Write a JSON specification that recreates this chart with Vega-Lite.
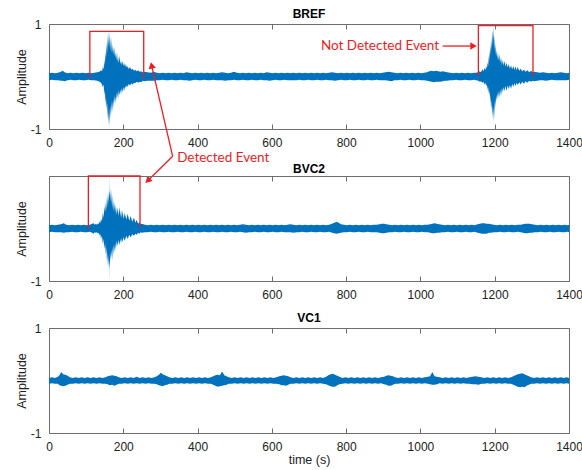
{
"$schema":"https://vega.github.io/schema/vega-lite/v6.json",
"padding":{"left":14,"top":7,"right":2,"bottom":2},
"spacing":47,
"bounds":"flush",
"config":{
 "font":"Liberation Sans",
 "view":{"stroke":"#6e6e6e","strokeWidth":1},
 "axis":{"grid":false,"domain":false,"labelFont":"Liberation Sans","labelFontSize":12,"labelColor":"#222222","titleFont":"Liberation Sans","titleFontSize":12.5,"titleFontWeight":"normal","titleColor":"#222222","tickColor":"#6e6e6e","labelFlush":false},
 "title":{"font":"Liberation Sans","fontSize":12,"fontWeight":"bold","color":"#000000","offset":-3,"baseline":"alphabetic","anchor":"middle","frame":"group"}
},
"datasets":{
"bref":[{"t":0,"h":0.06,"l":-0.07},{"t":8,"h":0.07,"l":-0.06},{"t":16,"h":0.06,"l":-0.07},{"t":24,"h":0.07,"l":-0.07},{"t":32,"h":0.09,"l":-0.08},{"t":37,"h":0.11,"l":-0.08},{"t":42,"h":0.08,"l":-0.09},{"t":50,"h":0.06,"l":-0.07},{"t":58,"h":0.07,"l":-0.06},{"t":66,"h":0.06,"l":-0.07},{"t":74,"h":0.07,"l":-0.07},{"t":82,"h":0.06,"l":-0.06},{"t":90,"h":0.07,"l":-0.07},{"t":98,"h":0.06,"l":-0.07},{"t":106,"h":0.07,"l":-0.06},{"t":114,"h":0.06,"l":-0.07},{"t":122,"h":0.07,"l":-0.07},{"t":130,"h":0.08,"l":-0.08},{"t":136,"h":0.09,"l":-0.1},{"t":140,"h":0.12,"l":-0.12},{"t":143,"h":0.1,"l":-0.16},{"t":145,"h":0.18,"l":-0.2},{"t":147,"h":0.14,"l":-0.15},{"t":149,"h":0.32,"l":-0.36},{"t":150.5,"h":0.2,"l":-0.25},{"t":152,"h":0.47,"l":-0.52},{"t":153.5,"h":0.35,"l":-0.4},{"t":155,"h":0.65,"l":-0.62},{"t":156.5,"h":0.45,"l":-0.5},{"t":158,"h":0.8,"l":-0.82},{"t":159,"h":0.55,"l":-0.6},{"t":160,"h":0.86,"l":-0.93},{"t":161,"h":0.6,"l":-0.7},{"t":162,"h":0.78,"l":-0.97},{"t":163,"h":0.55,"l":-0.6},{"t":164,"h":0.88,"l":-0.86},{"t":165,"h":0.5,"l":-0.55},{"t":166,"h":0.72,"l":-0.78},{"t":167,"h":0.45,"l":-0.5},{"t":168,"h":0.76,"l":-0.72},{"t":169.5,"h":0.45,"l":-0.45},{"t":171,"h":0.62,"l":-0.68},{"t":172.5,"h":0.4,"l":-0.42},{"t":174,"h":0.56,"l":-0.6},{"t":175.5,"h":0.38,"l":-0.35},{"t":177,"h":0.58,"l":-0.5},{"t":178.5,"h":0.35,"l":-0.38},{"t":180,"h":0.46,"l":-0.52},{"t":181.5,"h":0.3,"l":-0.3},{"t":183,"h":0.48,"l":-0.45},{"t":184.5,"h":0.28,"l":-0.3},{"t":186,"h":0.38,"l":-0.42},{"t":188,"h":0.25,"l":-0.26},{"t":190,"h":0.4,"l":-0.36},{"t":192,"h":0.24,"l":-0.25},{"t":194,"h":0.3,"l":-0.34},{"t":196,"h":0.22,"l":-0.22},{"t":198,"h":0.3,"l":-0.3},{"t":200,"h":0.2,"l":-0.2},{"t":202,"h":0.26,"l":-0.28},{"t":205,"h":0.18,"l":-0.18},{"t":207,"h":0.24,"l":-0.22},{"t":210,"h":0.16,"l":-0.16},{"t":212,"h":0.2,"l":-0.2},{"t":215,"h":0.14,"l":-0.14},{"t":218,"h":0.18,"l":-0.17},{"t":222,"h":0.13,"l":-0.13},{"t":225,"h":0.15,"l":-0.15},{"t":229,"h":0.11,"l":-0.12},{"t":232,"h":0.13,"l":-0.13},{"t":236,"h":0.1,"l":-0.1},{"t":240,"h":0.12,"l":-0.12},{"t":244,"h":0.09,"l":-0.1},{"t":248,"h":0.1,"l":-0.11},{"t":252,"h":0.08,"l":-0.08},{"t":256,"h":0.09,"l":-0.09},{"t":265,"h":0.08,"l":-0.08},{"t":274,"h":0.07,"l":-0.08},{"t":282,"h":0.09,"l":-0.08},{"t":290,"h":0.07,"l":-0.07},{"t":298,"h":0.06,"l":-0.07},{"t":306,"h":0.07,"l":-0.06},{"t":314,"h":0.06,"l":-0.07},{"t":322,"h":0.07,"l":-0.07},{"t":330,"h":0.06,"l":-0.06},{"t":338,"h":0.07,"l":-0.07},{"t":346,"h":0.06,"l":-0.07},{"t":354,"h":0.07,"l":-0.06},{"t":362,"h":0.06,"l":-0.07},{"t":370,"h":0.08,"l":-0.07},{"t":378,"h":0.07,"l":-0.08},{"t":386,"h":0.06,"l":-0.07},{"t":394,"h":0.07,"l":-0.06},{"t":402,"h":0.06,"l":-0.07},{"t":410,"h":0.07,"l":-0.07},{"t":418,"h":0.06,"l":-0.06},{"t":426,"h":0.07,"l":-0.07},{"t":434,"h":0.06,"l":-0.07},{"t":442,"h":0.07,"l":-0.06},{"t":450,"h":0.06,"l":-0.07},{"t":458,"h":0.07,"l":-0.07},{"t":466,"h":0.08,"l":-0.07},{"t":474,"h":0.07,"l":-0.08},{"t":482,"h":0.06,"l":-0.07},{"t":490,"h":0.07,"l":-0.07},{"t":498,"h":0.09,"l":-0.06},{"t":506,"h":0.07,"l":-0.07},{"t":514,"h":0.06,"l":-0.07},{"t":522,"h":0.07,"l":-0.06},{"t":530,"h":0.06,"l":-0.07},{"t":538,"h":0.07,"l":-0.07},{"t":546,"h":0.06,"l":-0.06},{"t":554,"h":0.07,"l":-0.07},{"t":562,"h":0.06,"l":-0.07},{"t":570,"h":0.07,"l":-0.06},{"t":578,"h":0.06,"l":-0.07},{"t":586,"h":0.08,"l":-0.07},{"t":594,"h":0.07,"l":-0.08},{"t":602,"h":0.06,"l":-0.07},{"t":610,"h":0.07,"l":-0.06},{"t":618,"h":0.06,"l":-0.07},{"t":626,"h":0.07,"l":-0.07},{"t":634,"h":0.06,"l":-0.06},{"t":642,"h":0.07,"l":-0.07},{"t":650,"h":0.06,"l":-0.07},{"t":658,"h":0.07,"l":-0.07},{"t":666,"h":0.06,"l":-0.07},{"t":674,"h":0.07,"l":-0.06},{"t":682,"h":0.06,"l":-0.07},{"t":690,"h":0.07,"l":-0.07},{"t":698,"h":0.06,"l":-0.06},{"t":706,"h":0.07,"l":-0.07},{"t":714,"h":0.06,"l":-0.07},{"t":722,"h":0.07,"l":-0.06},{"t":730,"h":0.06,"l":-0.07},{"t":738,"h":0.07,"l":-0.07},{"t":746,"h":0.06,"l":-0.06},{"t":754,"h":0.07,"l":-0.07},{"t":762,"h":0.08,"l":-0.07},{"t":770,"h":0.07,"l":-0.08},{"t":778,"h":0.06,"l":-0.07},{"t":786,"h":0.07,"l":-0.06},{"t":794,"h":0.06,"l":-0.07},{"t":802,"h":0.07,"l":-0.07},{"t":810,"h":0.06,"l":-0.06},{"t":818,"h":0.07,"l":-0.07},{"t":826,"h":0.06,"l":-0.07},{"t":834,"h":0.07,"l":-0.06},{"t":842,"h":0.06,"l":-0.07},{"t":850,"h":0.07,"l":-0.07},{"t":858,"h":0.06,"l":-0.06},{"t":866,"h":0.07,"l":-0.07},{"t":874,"h":0.06,"l":-0.07},{"t":882,"h":0.07,"l":-0.06},{"t":890,"h":0.06,"l":-0.07},{"t":898,"h":0.07,"l":-0.07},{"t":906,"h":0.08,"l":-0.07},{"t":914,"h":0.09,"l":-0.08},{"t":922,"h":0.08,"l":-0.09},{"t":930,"h":0.07,"l":-0.07},{"t":938,"h":0.06,"l":-0.07},{"t":946,"h":0.07,"l":-0.06},{"t":954,"h":0.06,"l":-0.07},{"t":962,"h":0.07,"l":-0.07},{"t":970,"h":0.06,"l":-0.06},{"t":978,"h":0.07,"l":-0.07},{"t":986,"h":0.06,"l":-0.07},{"t":994,"h":0.07,"l":-0.06},{"t":1002,"h":0.06,"l":-0.07},{"t":1010,"h":0.07,"l":-0.07},{"t":1018,"h":0.08,"l":-0.08},{"t":1024,"h":0.1,"l":-0.09},{"t":1030,"h":0.11,"l":-0.1},{"t":1036,"h":0.1,"l":-0.11},{"t":1042,"h":0.11,"l":-0.1},{"t":1048,"h":0.1,"l":-0.1},{"t":1054,"h":0.09,"l":-0.1},{"t":1060,"h":0.1,"l":-0.09},{"t":1066,"h":0.09,"l":-0.08},{"t":1072,"h":0.08,"l":-0.08},{"t":1080,"h":0.07,"l":-0.07},{"t":1088,"h":0.06,"l":-0.07},{"t":1096,"h":0.07,"l":-0.06},{"t":1104,"h":0.06,"l":-0.07},{"t":1112,"h":0.07,"l":-0.07},{"t":1120,"h":0.06,"l":-0.06},{"t":1128,"h":0.07,"l":-0.07},{"t":1136,"h":0.06,"l":-0.07},{"t":1144,"h":0.07,"l":-0.06},{"t":1150,"h":0.07,"l":-0.07},{"t":1156,"h":0.08,"l":-0.08},{"t":1160,"h":0.1,"l":-0.1},{"t":1163,"h":0.08,"l":-0.09},{"t":1167,"h":0.14,"l":-0.12},{"t":1170,"h":0.1,"l":-0.1},{"t":1172,"h":0.16,"l":-0.15},{"t":1175,"h":0.12,"l":-0.12},{"t":1177,"h":0.2,"l":-0.18},{"t":1179,"h":0.15,"l":-0.15},{"t":1181,"h":0.27,"l":-0.25},{"t":1182.5,"h":0.2,"l":-0.2},{"t":1184,"h":0.4,"l":-0.33},{"t":1185,"h":0.28,"l":-0.25},{"t":1186,"h":0.52,"l":-0.37},{"t":1187,"h":0.35,"l":-0.3},{"t":1188,"h":0.6,"l":-0.5},{"t":1189,"h":0.4,"l":-0.35},{"t":1190,"h":0.7,"l":-0.62},{"t":1191.5,"h":0.5,"l":-0.45},{"t":1193,"h":0.85,"l":-0.72},{"t":1194,"h":0.6,"l":-0.55},{"t":1195,"h":0.9,"l":-0.81},{"t":1196,"h":0.7,"l":-0.6},{"t":1197,"h":0.97,"l":-0.87},{"t":1198,"h":0.6,"l":-0.55},{"t":1199,"h":0.8,"l":-0.82},{"t":1200,"h":0.5,"l":-0.45},{"t":1201,"h":0.65,"l":-0.62},{"t":1202,"h":0.4,"l":-0.4},{"t":1203,"h":0.59,"l":-0.55},{"t":1204.5,"h":0.38,"l":-0.35},{"t":1206,"h":0.5,"l":-0.45},{"t":1207.5,"h":0.32,"l":-0.3},{"t":1209,"h":0.45,"l":-0.43},{"t":1210.5,"h":0.3,"l":-0.28},{"t":1212,"h":0.43,"l":-0.4},{"t":1214.5,"h":0.26,"l":-0.25},{"t":1217,"h":0.36,"l":-0.37},{"t":1219.5,"h":0.22,"l":-0.22},{"t":1222,"h":0.32,"l":-0.3},{"t":1224,"h":0.2,"l":-0.2},{"t":1226,"h":0.3,"l":-0.28},{"t":1229,"h":0.19,"l":-0.18},{"t":1232,"h":0.26,"l":-0.27},{"t":1235,"h":0.17,"l":-0.17},{"t":1238,"h":0.24,"l":-0.24},{"t":1241,"h":0.15,"l":-0.16},{"t":1244,"h":0.21,"l":-0.24},{"t":1247,"h":0.14,"l":-0.14},{"t":1250,"h":0.2,"l":-0.2},{"t":1253,"h":0.13,"l":-0.13},{"t":1256,"h":0.19,"l":-0.18},{"t":1259,"h":0.12,"l":-0.12},{"t":1262,"h":0.18,"l":-0.16},{"t":1266,"h":0.11,"l":-0.11},{"t":1270,"h":0.15,"l":-0.15},{"t":1274,"h":0.1,"l":-0.1},{"t":1279,"h":0.13,"l":-0.14},{"t":1283,"h":0.09,"l":-0.09},{"t":1288,"h":0.12,"l":-0.12},{"t":1293,"h":0.08,"l":-0.08},{"t":1298,"h":0.11,"l":-0.1},{"t":1302,"h":0.08,"l":-0.08},{"t":1306,"h":0.09,"l":-0.09},{"t":1314,"h":0.08,"l":-0.08},{"t":1322,"h":0.07,"l":-0.07},{"t":1330,"h":0.08,"l":-0.07},{"t":1338,"h":0.07,"l":-0.08},{"t":1346,"h":0.06,"l":-0.07},{"t":1354,"h":0.07,"l":-0.06},{"t":1362,"h":0.06,"l":-0.07},{"t":1370,"h":0.07,"l":-0.07},{"t":1378,"h":0.08,"l":-0.07},{"t":1386,"h":0.07,"l":-0.07},{"t":1394,"h":0.06,"l":-0.07},{"t":1400,"h":0.07,"l":-0.06}],
"bvc2":[{"t":0,"h":0.06,"l":-0.07},{"t":8,"h":0.07,"l":-0.06},{"t":16,"h":0.06,"l":-0.07},{"t":24,"h":0.07,"l":-0.07},{"t":32,"h":0.08,"l":-0.07},{"t":40,"h":0.1,"l":-0.08},{"t":46,"h":0.07,"l":-0.07},{"t":54,"h":0.06,"l":-0.07},{"t":62,"h":0.07,"l":-0.06},{"t":70,"h":0.06,"l":-0.07},{"t":78,"h":0.07,"l":-0.07},{"t":86,"h":0.06,"l":-0.06},{"t":94,"h":0.07,"l":-0.07},{"t":102,"h":0.06,"l":-0.07},{"t":110,"h":0.07,"l":-0.06},{"t":116,"h":0.09,"l":-0.08},{"t":120,"h":0.1,"l":-0.1},{"t":123,"h":0.07,"l":-0.07},{"t":126,"h":0.09,"l":-0.08},{"t":129,"h":0.07,"l":-0.07},{"t":132,"h":0.1,"l":-0.1},{"t":134,"h":0.08,"l":-0.08},{"t":136,"h":0.14,"l":-0.14},{"t":138,"h":0.1,"l":-0.1},{"t":140,"h":0.18,"l":-0.2},{"t":142.5,"h":0.14,"l":-0.14},{"t":145,"h":0.3,"l":-0.3},{"t":147,"h":0.2,"l":-0.2},{"t":149,"h":0.43,"l":-0.39},{"t":151,"h":0.3,"l":-0.28},{"t":153,"h":0.5,"l":-0.5},{"t":154.5,"h":0.35,"l":-0.35},{"t":156,"h":0.6,"l":-0.62},{"t":157,"h":0.42,"l":-0.45},{"t":158,"h":0.66,"l":-0.71},{"t":159,"h":0.45,"l":-0.5},{"t":160,"h":0.7,"l":-0.75},{"t":161,"h":0.5,"l":-0.55},{"t":162,"h":0.72,"l":-0.77},{"t":162.6,"h":0.6,"l":-0.6},{"t":163,"h":1,"l":-1},{"t":163.4,"h":0.6,"l":-0.6},{"t":164,"h":0.74,"l":-0.72},{"t":165,"h":0.5,"l":-0.45},{"t":166,"h":0.76,"l":-0.62},{"t":167,"h":0.5,"l":-0.42},{"t":168,"h":0.75,"l":-0.58},{"t":169,"h":0.45,"l":-0.4},{"t":170,"h":0.65,"l":-0.62},{"t":171.5,"h":0.38,"l":-0.35},{"t":173,"h":0.55,"l":-0.5},{"t":174.5,"h":0.32,"l":-0.3},{"t":176,"h":0.5,"l":-0.45},{"t":178,"h":0.3,"l":-0.28},{"t":180,"h":0.45,"l":-0.4},{"t":182.5,"h":0.26,"l":-0.24},{"t":185,"h":0.4,"l":-0.33},{"t":187.5,"h":0.24,"l":-0.22},{"t":190,"h":0.42,"l":-0.32},{"t":192,"h":0.22,"l":-0.2},{"t":194,"h":0.36,"l":-0.28},{"t":196,"h":0.2,"l":-0.18},{"t":198,"h":0.34,"l":-0.26},{"t":201,"h":0.18,"l":-0.16},{"t":204,"h":0.3,"l":-0.24},{"t":208,"h":0.17,"l":-0.14},{"t":212,"h":0.28,"l":-0.2},{"t":216,"h":0.15,"l":-0.12},{"t":220,"h":0.24,"l":-0.17},{"t":224,"h":0.13,"l":-0.11},{"t":229,"h":0.21,"l":-0.14},{"t":232,"h":0.11,"l":-0.1},{"t":236,"h":0.16,"l":-0.12},{"t":240,"h":0.09,"l":-0.08},{"t":243,"h":0.12,"l":-0.1},{"t":247,"h":0.08,"l":-0.07},{"t":250,"h":0.09,"l":-0.08},{"t":258,"h":0.07,"l":-0.07},{"t":266,"h":0.06,"l":-0.07},{"t":274,"h":0.07,"l":-0.06},{"t":282,"h":0.06,"l":-0.07},{"t":290,"h":0.07,"l":-0.07},{"t":298,"h":0.06,"l":-0.06},{"t":306,"h":0.07,"l":-0.07},{"t":314,"h":0.06,"l":-0.07},{"t":322,"h":0.07,"l":-0.06},{"t":330,"h":0.06,"l":-0.07},{"t":338,"h":0.07,"l":-0.07},{"t":346,"h":0.06,"l":-0.06},{"t":354,"h":0.07,"l":-0.07},{"t":362,"h":0.06,"l":-0.07},{"t":370,"h":0.07,"l":-0.06},{"t":378,"h":0.06,"l":-0.07},{"t":386,"h":0.07,"l":-0.07},{"t":394,"h":0.06,"l":-0.06},{"t":402,"h":0.07,"l":-0.07},{"t":410,"h":0.06,"l":-0.07},{"t":418,"h":0.07,"l":-0.06},{"t":426,"h":0.06,"l":-0.07},{"t":434,"h":0.07,"l":-0.07},{"t":442,"h":0.06,"l":-0.06},{"t":450,"h":0.07,"l":-0.07},{"t":458,"h":0.06,"l":-0.07},{"t":466,"h":0.07,"l":-0.06},{"t":474,"h":0.06,"l":-0.07},{"t":482,"h":0.07,"l":-0.07},{"t":490,"h":0.06,"l":-0.06},{"t":498,"h":0.07,"l":-0.07},{"t":506,"h":0.06,"l":-0.07},{"t":514,"h":0.07,"l":-0.06},{"t":522,"h":0.08,"l":-0.07},{"t":530,"h":0.07,"l":-0.08},{"t":538,"h":0.06,"l":-0.07},{"t":546,"h":0.07,"l":-0.07},{"t":554,"h":0.06,"l":-0.06},{"t":562,"h":0.07,"l":-0.07},{"t":570,"h":0.06,"l":-0.07},{"t":578,"h":0.07,"l":-0.06},{"t":586,"h":0.06,"l":-0.07},{"t":594,"h":0.07,"l":-0.07},{"t":602,"h":0.06,"l":-0.06},{"t":610,"h":0.07,"l":-0.07},{"t":618,"h":0.06,"l":-0.07},{"t":626,"h":0.07,"l":-0.06},{"t":634,"h":0.06,"l":-0.07},{"t":642,"h":0.07,"l":-0.07},{"t":650,"h":0.08,"l":-0.07},{"t":658,"h":0.07,"l":-0.08},{"t":666,"h":0.06,"l":-0.07},{"t":674,"h":0.07,"l":-0.07},{"t":682,"h":0.06,"l":-0.06},{"t":690,"h":0.07,"l":-0.07},{"t":698,"h":0.06,"l":-0.07},{"t":706,"h":0.07,"l":-0.06},{"t":714,"h":0.06,"l":-0.07},{"t":722,"h":0.07,"l":-0.07},{"t":730,"h":0.06,"l":-0.06},{"t":738,"h":0.07,"l":-0.07},{"t":746,"h":0.06,"l":-0.07},{"t":754,"h":0.07,"l":-0.06},{"t":762,"h":0.09,"l":-0.08},{"t":768,"h":0.11,"l":-0.09},{"t":774,"h":0.13,"l":-0.1},{"t":780,"h":0.11,"l":-0.09},{"t":786,"h":0.08,"l":-0.08},{"t":794,"h":0.07,"l":-0.07},{"t":802,"h":0.06,"l":-0.07},{"t":810,"h":0.07,"l":-0.06},{"t":818,"h":0.06,"l":-0.07},{"t":826,"h":0.07,"l":-0.07},{"t":834,"h":0.06,"l":-0.06},{"t":842,"h":0.07,"l":-0.07},{"t":850,"h":0.06,"l":-0.07},{"t":858,"h":0.07,"l":-0.06},{"t":866,"h":0.06,"l":-0.07},{"t":874,"h":0.07,"l":-0.07},{"t":882,"h":0.07,"l":-0.07},{"t":890,"h":0.08,"l":-0.08},{"t":896,"h":0.09,"l":-0.09},{"t":902,"h":0.09,"l":-0.09},{"t":908,"h":0.08,"l":-0.08},{"t":916,"h":0.07,"l":-0.07},{"t":924,"h":0.06,"l":-0.07},{"t":932,"h":0.07,"l":-0.06},{"t":940,"h":0.06,"l":-0.07},{"t":948,"h":0.07,"l":-0.07},{"t":956,"h":0.06,"l":-0.06},{"t":964,"h":0.07,"l":-0.07},{"t":972,"h":0.06,"l":-0.07},{"t":980,"h":0.07,"l":-0.06},{"t":988,"h":0.06,"l":-0.07},{"t":996,"h":0.07,"l":-0.07},{"t":1004,"h":0.06,"l":-0.06},{"t":1012,"h":0.07,"l":-0.07},{"t":1020,"h":0.07,"l":-0.07},{"t":1026,"h":0.08,"l":-0.08},{"t":1032,"h":0.09,"l":-0.09},{"t":1038,"h":0.1,"l":-0.09},{"t":1044,"h":0.09,"l":-0.08},{"t":1050,"h":0.08,"l":-0.08},{"t":1058,"h":0.07,"l":-0.07},{"t":1066,"h":0.06,"l":-0.07},{"t":1074,"h":0.07,"l":-0.06},{"t":1082,"h":0.06,"l":-0.07},{"t":1090,"h":0.07,"l":-0.07},{"t":1098,"h":0.06,"l":-0.06},{"t":1106,"h":0.07,"l":-0.07},{"t":1114,"h":0.06,"l":-0.07},{"t":1122,"h":0.07,"l":-0.06},{"t":1130,"h":0.06,"l":-0.07},{"t":1138,"h":0.07,"l":-0.07},{"t":1146,"h":0.06,"l":-0.06},{"t":1154,"h":0.08,"l":-0.08},{"t":1160,"h":0.09,"l":-0.09},{"t":1166,"h":0.1,"l":-0.1},{"t":1172,"h":0.1,"l":-0.1},{"t":1178,"h":0.09,"l":-0.1},{"t":1184,"h":0.09,"l":-0.08},{"t":1190,"h":0.08,"l":-0.08},{"t":1198,"h":0.07,"l":-0.07},{"t":1206,"h":0.06,"l":-0.07},{"t":1214,"h":0.07,"l":-0.06},{"t":1222,"h":0.06,"l":-0.07},{"t":1230,"h":0.07,"l":-0.07},{"t":1238,"h":0.06,"l":-0.06},{"t":1246,"h":0.07,"l":-0.07},{"t":1254,"h":0.06,"l":-0.07},{"t":1262,"h":0.07,"l":-0.06},{"t":1270,"h":0.07,"l":-0.07},{"t":1276,"h":0.08,"l":-0.08},{"t":1282,"h":0.09,"l":-0.09},{"t":1288,"h":0.09,"l":-0.09},{"t":1294,"h":0.09,"l":-0.08},{"t":1300,"h":0.08,"l":-0.08},{"t":1308,"h":0.07,"l":-0.07},{"t":1316,"h":0.06,"l":-0.07},{"t":1324,"h":0.07,"l":-0.06},{"t":1332,"h":0.06,"l":-0.07},{"t":1340,"h":0.07,"l":-0.07},{"t":1348,"h":0.06,"l":-0.06},{"t":1356,"h":0.07,"l":-0.07},{"t":1364,"h":0.06,"l":-0.07},{"t":1372,"h":0.07,"l":-0.06},{"t":1380,"h":0.06,"l":-0.07},{"t":1388,"h":0.07,"l":-0.07},{"t":1396,"h":0.06,"l":-0.06},{"t":1400,"h":0.07,"l":-0.07}],
"vc1":[{"t":0,"h":0.05,"l":-0.06},{"t":8,"h":0.06,"l":-0.05},{"t":16,"h":0.05,"l":-0.06},{"t":24,"h":0.07,"l":-0.06},{"t":28,"h":0.1,"l":-0.09},{"t":33,"h":0.16,"l":-0.1},{"t":38,"h":0.12,"l":-0.11},{"t":44,"h":0.11,"l":-0.1},{"t":50,"h":0.09,"l":-0.08},{"t":56,"h":0.06,"l":-0.06},{"t":64,"h":0.05,"l":-0.06},{"t":72,"h":0.06,"l":-0.05},{"t":80,"h":0.05,"l":-0.06},{"t":88,"h":0.06,"l":-0.05},{"t":96,"h":0.05,"l":-0.06},{"t":104,"h":0.06,"l":-0.05},{"t":112,"h":0.05,"l":-0.06},{"t":120,"h":0.06,"l":-0.05},{"t":128,"h":0.05,"l":-0.06},{"t":136,"h":0.06,"l":-0.05},{"t":144,"h":0.05,"l":-0.06},{"t":152,"h":0.06,"l":-0.06},{"t":158,"h":0.08,"l":-0.07},{"t":164,"h":0.09,"l":-0.09},{"t":170,"h":0.1,"l":-0.08},{"t":176,"h":0.09,"l":-0.1},{"t":182,"h":0.08,"l":-0.08},{"t":188,"h":0.06,"l":-0.06},{"t":196,"h":0.05,"l":-0.06},{"t":204,"h":0.06,"l":-0.05},{"t":212,"h":0.05,"l":-0.06},{"t":220,"h":0.06,"l":-0.05},{"t":228,"h":0.05,"l":-0.06},{"t":236,"h":0.07,"l":-0.05},{"t":244,"h":0.05,"l":-0.06},{"t":252,"h":0.06,"l":-0.05},{"t":260,"h":0.05,"l":-0.06},{"t":268,"h":0.06,"l":-0.05},{"t":276,"h":0.05,"l":-0.06},{"t":284,"h":0.06,"l":-0.06},{"t":290,"h":0.08,"l":-0.07},{"t":296,"h":0.11,"l":-0.09},{"t":301,"h":0.15,"l":-0.1},{"t":306,"h":0.12,"l":-0.11},{"t":312,"h":0.1,"l":-0.09},{"t":318,"h":0.08,"l":-0.08},{"t":324,"h":0.06,"l":-0.06},{"t":332,"h":0.05,"l":-0.06},{"t":340,"h":0.06,"l":-0.05},{"t":348,"h":0.05,"l":-0.06},{"t":356,"h":0.06,"l":-0.05},{"t":364,"h":0.05,"l":-0.06},{"t":372,"h":0.06,"l":-0.05},{"t":380,"h":0.05,"l":-0.06},{"t":388,"h":0.06,"l":-0.05},{"t":396,"h":0.05,"l":-0.06},{"t":404,"h":0.06,"l":-0.05},{"t":412,"h":0.05,"l":-0.06},{"t":420,"h":0.06,"l":-0.05},{"t":428,"h":0.05,"l":-0.06},{"t":436,"h":0.06,"l":-0.06},{"t":442,"h":0.08,"l":-0.08},{"t":448,"h":0.1,"l":-0.1},{"t":454,"h":0.11,"l":-0.12},{"t":460,"h":0.1,"l":-0.11},{"t":466,"h":0.17,"l":-0.1},{"t":472,"h":0.1,"l":-0.09},{"t":478,"h":0.08,"l":-0.08},{"t":484,"h":0.06,"l":-0.06},{"t":492,"h":0.05,"l":-0.06},{"t":500,"h":0.06,"l":-0.05},{"t":508,"h":0.05,"l":-0.06},{"t":516,"h":0.06,"l":-0.05},{"t":524,"h":0.05,"l":-0.06},{"t":532,"h":0.06,"l":-0.05},{"t":540,"h":0.05,"l":-0.06},{"t":548,"h":0.06,"l":-0.05},{"t":556,"h":0.05,"l":-0.06},{"t":564,"h":0.06,"l":-0.05},{"t":572,"h":0.05,"l":-0.06},{"t":580,"h":0.06,"l":-0.05},{"t":588,"h":0.05,"l":-0.06},{"t":596,"h":0.06,"l":-0.05},{"t":604,"h":0.05,"l":-0.06},{"t":612,"h":0.06,"l":-0.06},{"t":620,"h":0.08,"l":-0.07},{"t":626,"h":0.09,"l":-0.09},{"t":632,"h":0.1,"l":-0.09},{"t":638,"h":0.09,"l":-0.1},{"t":644,"h":0.08,"l":-0.08},{"t":650,"h":0.06,"l":-0.06},{"t":658,"h":0.05,"l":-0.06},{"t":666,"h":0.06,"l":-0.05},{"t":674,"h":0.05,"l":-0.06},{"t":682,"h":0.06,"l":-0.05},{"t":690,"h":0.05,"l":-0.06},{"t":698,"h":0.06,"l":-0.05},{"t":706,"h":0.05,"l":-0.06},{"t":714,"h":0.06,"l":-0.05},{"t":722,"h":0.05,"l":-0.06},{"t":730,"h":0.06,"l":-0.05},{"t":738,"h":0.05,"l":-0.06},{"t":746,"h":0.07,"l":-0.07},{"t":752,"h":0.1,"l":-0.09},{"t":758,"h":0.12,"l":-0.11},{"t":764,"h":0.13,"l":-0.12},{"t":770,"h":0.11,"l":-0.12},{"t":776,"h":0.09,"l":-0.09},{"t":782,"h":0.07,"l":-0.07},{"t":790,"h":0.05,"l":-0.06},{"t":798,"h":0.06,"l":-0.05},{"t":806,"h":0.05,"l":-0.06},{"t":814,"h":0.06,"l":-0.05},{"t":822,"h":0.05,"l":-0.06},{"t":830,"h":0.06,"l":-0.05},{"t":838,"h":0.05,"l":-0.06},{"t":846,"h":0.06,"l":-0.05},{"t":854,"h":0.05,"l":-0.06},{"t":862,"h":0.06,"l":-0.05},{"t":870,"h":0.05,"l":-0.06},{"t":878,"h":0.06,"l":-0.05},{"t":886,"h":0.05,"l":-0.06},{"t":894,"h":0.06,"l":-0.05},{"t":902,"h":0.07,"l":-0.07},{"t":908,"h":0.09,"l":-0.08},{"t":914,"h":0.1,"l":-0.1},{"t":920,"h":0.09,"l":-0.1},{"t":926,"h":0.08,"l":-0.08},{"t":932,"h":0.06,"l":-0.06},{"t":940,"h":0.05,"l":-0.06},{"t":948,"h":0.06,"l":-0.05},{"t":956,"h":0.05,"l":-0.06},{"t":964,"h":0.06,"l":-0.05},{"t":972,"h":0.05,"l":-0.06},{"t":980,"h":0.06,"l":-0.05},{"t":988,"h":0.05,"l":-0.06},{"t":996,"h":0.06,"l":-0.05},{"t":1004,"h":0.05,"l":-0.06},{"t":1012,"h":0.06,"l":-0.05},{"t":1020,"h":0.07,"l":-0.06},{"t":1026,"h":0.08,"l":-0.07},{"t":1032,"h":0.16,"l":-0.08},{"t":1038,"h":0.08,"l":-0.08},{"t":1044,"h":0.07,"l":-0.07},{"t":1052,"h":0.06,"l":-0.05},{"t":1060,"h":0.05,"l":-0.06},{"t":1068,"h":0.06,"l":-0.05},{"t":1076,"h":0.05,"l":-0.06},{"t":1084,"h":0.06,"l":-0.05},{"t":1092,"h":0.05,"l":-0.06},{"t":1100,"h":0.06,"l":-0.05},{"t":1108,"h":0.05,"l":-0.06},{"t":1116,"h":0.06,"l":-0.05},{"t":1124,"h":0.05,"l":-0.06},{"t":1132,"h":0.06,"l":-0.06},{"t":1140,"h":0.07,"l":-0.07},{"t":1148,"h":0.08,"l":-0.07},{"t":1156,"h":0.07,"l":-0.08},{"t":1164,"h":0.06,"l":-0.06},{"t":1172,"h":0.05,"l":-0.06},{"t":1180,"h":0.06,"l":-0.05},{"t":1188,"h":0.05,"l":-0.06},{"t":1196,"h":0.06,"l":-0.05},{"t":1204,"h":0.05,"l":-0.06},{"t":1212,"h":0.06,"l":-0.05},{"t":1220,"h":0.05,"l":-0.06},{"t":1228,"h":0.06,"l":-0.05},{"t":1236,"h":0.05,"l":-0.06},{"t":1244,"h":0.06,"l":-0.06},{"t":1250,"h":0.08,"l":-0.08},{"t":1256,"h":0.1,"l":-0.1},{"t":1262,"h":0.12,"l":-0.12},{"t":1268,"h":0.13,"l":-0.13},{"t":1274,"h":0.14,"l":-0.12},{"t":1280,"h":0.12,"l":-0.13},{"t":1286,"h":0.1,"l":-0.1},{"t":1292,"h":0.08,"l":-0.08},{"t":1298,"h":0.06,"l":-0.06},{"t":1306,"h":0.05,"l":-0.06},{"t":1314,"h":0.06,"l":-0.05},{"t":1322,"h":0.05,"l":-0.06},{"t":1330,"h":0.06,"l":-0.05},{"t":1338,"h":0.05,"l":-0.06},{"t":1346,"h":0.06,"l":-0.05},{"t":1354,"h":0.05,"l":-0.06},{"t":1362,"h":0.06,"l":-0.05},{"t":1370,"h":0.05,"l":-0.06},{"t":1378,"h":0.06,"l":-0.05},{"t":1386,"h":0.05,"l":-0.06},{"t":1394,"h":0.06,"l":-0.05},{"t":1400,"h":0.05,"l":-0.06}],
"boxes":[{"p":"BREF","b":1,"i":0,"t":110,"y":-0.03},{"p":"BREF","b":1,"i":1,"t":110,"y":0.86},{"p":"BREF","b":1,"i":2,"t":255,"y":0.86},{"p":"BREF","b":1,"i":3,"t":255,"y":-0.03},{"p":"BREF","b":2,"i":0,"t":1156,"y":0.01},{"p":"BREF","b":2,"i":1,"t":1156,"y":0.97},{"p":"BREF","b":2,"i":2,"t":1303,"y":0.97},{"p":"BREF","b":2,"i":3,"t":1303,"y":0.01},{"p":"BVC2","b":3,"i":0,"t":106,"y":0},{"p":"BVC2","b":3,"i":1,"t":106,"y":1},{"p":"BVC2","b":3,"i":2,"t":245,"y":1},{"p":"BVC2","b":3,"i":3,"t":245,"y":0.03}],
"arrows":[{"a":1,"t":333,"y":-1.52},{"a":1,"t":276.8,"y":0.192},{"a":2,"t":333,"y":-1.52},{"a":2,"t":267.9,"y":-1.97},{"a":3,"t":1060,"y":0.58},{"a":3,"t":1140,"y":0.58}],
"heads":[{"a":1,"t":276.8,"y":0.192},{"a":2,"t":267.9,"y":-1.97},{"a":3,"t":1140,"y":0.58}],
"notes":[{"label":"Not Detected Event","t":732,"y":0.58},{"label":"Detected Event","t":345,"y":-1.56}]
},
"vconcat":[
{"width":520,"height":105,"title":{"text":"BREF"},
 "layer":[
  {"data":{"name":"bref"},"mark":{"type":"area","color":"#0072BD"},
   "encoding":{"x":{"field":"t","type":"quantitative","scale":{"domain":[0,1400],"nice":false},"axis":{"orient":"bottom","values":[0,200,400,600,800,1000,1200,1400],"labelExpr":"'' + datum.value","tickSize":-5,"labelPadding":13,"title":null}},
   "y":{"field":"h","type":"quantitative","scale":{"domain":[-1,1],"nice":false},"axis":{"values":[-1,1],"ticks":false,"labelExpr":"'' + datum.value","labelPadding":8,"title":"Amplitude","titlePadding":2}},
   "y2":{"field":"l"}}},
  {"data":{"name":"bref"},"mark":{"type":"point","opacity":0},
   "encoding":{"x":{"field":"t","type":"quantitative","scale":{"domain":[0,1400],"nice":false},"axis":{"orient":"top","values":[0,200,400,600,800,1000,1200,1400],"tickSize":-5,"labels":false,"title":null}},
   "y":{"field":"h","type":"quantitative","scale":{"domain":[-1,1],"nice":false}}}},
  {"data":{"name":"boxes"},"transform":[{"filter":"datum.p == 'BREF'"}],"mark":{"type":"line","color":"#ed1c24","strokeWidth":1.3},
   "encoding":{"x":{"field":"t","type":"quantitative","scale":{"domain":[0,1400],"nice":false},"axis":null},
   "y":{"field":"y","type":"quantitative","scale":{"domain":[-1,1],"nice":false}},"detail":{"field":"b"},"order":{"field":"i"}}},
  {"data":{"name":"arrows"},"mark":{"type":"line","color":"#ed1c24","strokeWidth":1.3},
   "encoding":{"x":{"field":"t","type":"quantitative","scale":{"domain":[0,1400],"nice":false},"axis":null},
   "y":{"field":"y","type":"quantitative","scale":{"domain":[-1,1],"nice":false}},"detail":{"field":"a"}}},
  {"data":{"name":"heads"},"transform":[{"filter":"datum.a == 1"}],"mark":{"type":"point","shape":"triangle","filled":true,"size":55,"angle":347,"color":"#ed1c24","opacity":1},
   "encoding":{"x":{"field":"t","type":"quantitative","scale":{"domain":[0,1400],"nice":false},"axis":null},
   "y":{"field":"y","type":"quantitative","scale":{"domain":[-1,1],"nice":false}}}},
  {"data":{"name":"heads"},"transform":[{"filter":"datum.a == 2"}],"mark":{"type":"point","shape":"triangle","filled":true,"size":55,"angle":226,"color":"#ed1c24","opacity":1},
   "encoding":{"x":{"field":"t","type":"quantitative","scale":{"domain":[0,1400],"nice":false},"axis":null},
   "y":{"field":"y","type":"quantitative","scale":{"domain":[-1,1],"nice":false}}}},
  {"data":{"name":"heads"},"transform":[{"filter":"datum.a == 3"}],"mark":{"type":"point","shape":"triangle","filled":true,"size":55,"angle":90,"color":"#ed1c24","opacity":1},
   "encoding":{"x":{"field":"t","type":"quantitative","scale":{"domain":[0,1400],"nice":false},"axis":null},
   "y":{"field":"y","type":"quantitative","scale":{"domain":[-1,1],"nice":false}}}},
  {"data":{"name":"notes"},"mark":{"type":"text","align":"left","baseline":"middle","font":"Lato","fontSize":13.5,"color":"#ed1c24"},
   "encoding":{"x":{"field":"t","type":"quantitative","scale":{"domain":[0,1400],"nice":false},"axis":null},
   "y":{"field":"y","type":"quantitative","scale":{"domain":[-1,1],"nice":false}},"text":{"field":"label"}}}
 ]},
{"width":520,"height":105,"title":{"text":"BVC2"},
 "layer":[
  {"data":{"name":"bvc2"},"mark":{"type":"area","color":"#0072BD"},
   "encoding":{"x":{"field":"t","type":"quantitative","scale":{"domain":[0,1400],"nice":false},"axis":{"orient":"bottom","values":[0,200,400,600,800,1000,1200,1400],"labelExpr":"'' + datum.value","tickSize":-5,"labelPadding":13,"title":null}},
   "y":{"field":"h","type":"quantitative","scale":{"domain":[-1,1],"nice":false},"axis":{"values":[-1],"ticks":false,"labelExpr":"'' + datum.value","labelPadding":8,"title":"Amplitude","titlePadding":2}},
   "y2":{"field":"l"}}},
  {"data":{"name":"bvc2"},"mark":{"type":"point","opacity":0},
   "encoding":{"x":{"field":"t","type":"quantitative","scale":{"domain":[0,1400],"nice":false},"axis":{"orient":"top","values":[0,200,400,600,800,1000,1200,1400],"tickSize":-5,"labels":false,"title":null}},
   "y":{"field":"h","type":"quantitative","scale":{"domain":[-1,1],"nice":false}}}},
  {"data":{"name":"boxes"},"transform":[{"filter":"datum.p == 'BVC2'"}],"mark":{"type":"line","color":"#ed1c24","strokeWidth":1.3},
   "encoding":{"x":{"field":"t","type":"quantitative","scale":{"domain":[0,1400],"nice":false},"axis":null},
   "y":{"field":"y","type":"quantitative","scale":{"domain":[-1,1],"nice":false}},"detail":{"field":"b"},"order":{"field":"i"}}}
 ]},
{"width":520,"height":105,"title":{"text":"VC1"},
 "layer":[
  {"data":{"name":"vc1"},"mark":{"type":"area","color":"#0072BD"},
   "encoding":{"x":{"field":"t","type":"quantitative","scale":{"domain":[0,1400],"nice":false},"axis":{"orient":"bottom","values":[0,200,400,600,800,1000,1200,1400],"labelExpr":"'' + datum.value","tickSize":-5,"labelPadding":13,"title":"time (s)","titlePadding":1}},
   "y":{"field":"h","type":"quantitative","scale":{"domain":[-1,1],"nice":false},"axis":{"values":[-1,1],"ticks":false,"labelExpr":"'' + datum.value","labelPadding":8,"title":"Amplitude","titlePadding":2}},
   "y2":{"field":"l"}}},
  {"data":{"name":"vc1"},"mark":{"type":"point","opacity":0},
   "encoding":{"x":{"field":"t","type":"quantitative","scale":{"domain":[0,1400],"nice":false},"axis":{"orient":"top","values":[0,200,400,600,800,1000,1200,1400],"tickSize":-5,"labels":false,"title":null}},
   "y":{"field":"h","type":"quantitative","scale":{"domain":[-1,1],"nice":false}}}}
 ]}
]
}
